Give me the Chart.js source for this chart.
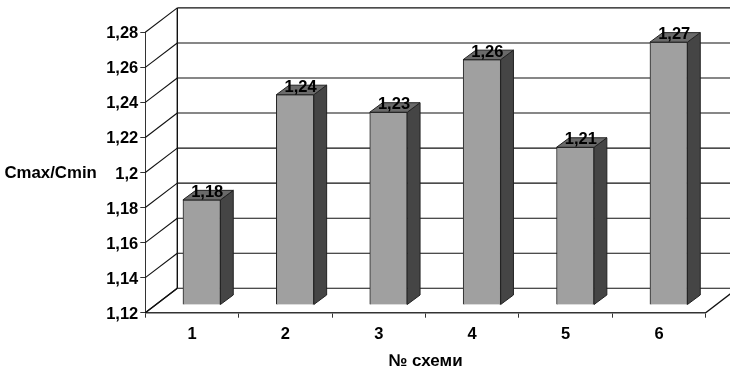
<!DOCTYPE html>
<html><head><meta charset="utf-8">
<style>html,body{margin:0;padding:0;background:#fff}canvas{display:block}</style>
<script src="https://cdn.jsdelivr.net/npm/chart.js@4"></script>
</head><body><canvas id="c" width="730" height="368"></canvas>
<script>
const categories = ["1","2","3","4","5","6"];
const values = [1.18,1.24,1.23,1.26,1.21,1.27];
const valueLabels = ["1,18","1,24","1,23","1,26","1,21","1,27"];
const yTicks = [1.12,1.14,1.16,1.18,1.2,1.22,1.24,1.26,1.28];
const yTickLabels = ["1,12","1,14","1,16","1,18","1,2","1,22","1,24","1,26","1,28"];
const yTitle = "Cmax/Cmin";
const xTitle = "№ схеми";

const FONT = '"Liberation Sans", Arial, sans-serif';
const WALL = {dx:32, dy:-24.4};
const BAR = {dx:9.7, dy:-7.7};
const SIDE = {dx:12.8, dy:-9.5};
const INK = '#111';

const scene = {
  id:'scene',
  beforeDatasetsDraw(chart){
    const {ctx, scales:{x,y}} = chart;
    const L=x.left, R=x.right, B=y.bottom;
    ctx.save();
    ctx.strokeStyle=INK; ctx.lineWidth=1.1;
    const line=(a,b,c,d)=>{ctx.beginPath();ctx.moveTo(a,b);ctx.lineTo(c,d);ctx.stroke();};
    yTicks.forEach(v=>{
      const p=y.getPixelForValue(v);
      line(L,p,L+WALL.dx,p+WALL.dy);
      line(L+WALL.dx,p+WALL.dy,730,p+WALL.dy);
    });
    ctx.lineWidth=1.4;
    line(L+WALL.dx,y.top+WALL.dy,L+WALL.dx,B+WALL.dy);
    line(R,B,R+WALL.dx,B+WALL.dy);
    line(L,B,L+WALL.dx,B+WALL.dy);
    ctx.restore();
    ctx.save();
    ctx.translate(BAR.dx,BAR.dy);
  },
  afterDatasetsDraw(chart){
    const {ctx} = chart;
    const bars = chart.getDatasetMeta(0).data;
    ctx.strokeStyle='#222'; ctx.lineWidth=1;
    bars.forEach(b=>{
      const r=b.x+b.width/2, l=b.x-b.width/2, t=b.y, bt=b.base;
      ctx.fillStyle='#454545';
      ctx.beginPath();ctx.moveTo(r,t);ctx.lineTo(r+SIDE.dx,t+SIDE.dy);ctx.lineTo(r+SIDE.dx,bt+SIDE.dy);ctx.lineTo(r,bt);ctx.closePath();ctx.fill();ctx.stroke();
      ctx.fillStyle='#6a6a6a';
      ctx.beginPath();ctx.moveTo(l,t);ctx.lineTo(l+SIDE.dx,t+SIDE.dy);ctx.lineTo(r+SIDE.dx,t+SIDE.dy);ctx.lineTo(r,t);ctx.closePath();ctx.fill();ctx.stroke();
    });
    ctx.fillStyle='#000';
    ctx.font='bold 16.5px '+FONT;
    ctx.textAlign='center'; ctx.textBaseline='alphabetic';
    bars.forEach((b,i)=>ctx.fillText(valueLabels[i],b.x+5.5,b.y-3));
    ctx.restore();
  },
  afterDraw(chart){
    const {ctx,scales:{y}} = chart;
    ctx.save();
    ctx.fillStyle='#000';
    ctx.font='bold 16.8px '+FONT;
    ctx.textAlign='left'; ctx.textBaseline='alphabetic';
    ctx.fillText(yTitle,4.5,y.getPixelForValue(1.2)+5);
    ctx.restore();
  }
};

new Chart(document.getElementById('c'),{
  type:'bar',
  data:{labels:categories,datasets:[{data:values,base:yTicks[0],backgroundColor:'#a0a0a0',borderColor:'#222',borderWidth:1,barThickness:37.5,clip:false}]},
  plugins:[scene],
  options:{
    responsive:false,animation:false,
    layout:{padding:{top:32.3,right:24.3,left:0,bottom:0}},
    plugins:{legend:{display:false},tooltip:{enabled:false},title:{display:false}},
    scales:{
      x:{
        afterFit(s){s.height=55.3;},
        border:{color:'#333',width:1.5},
        grid:{drawOnChartArea:false,tickLength:5,color:'#333',offset:true},
        ticks:{color:'#000',font:{family:FONT,weight:'bold',size:16.5},padding:7,maxRotation:0},
        title:{display:true,text:xTitle,color:'#000',font:{family:FONT,weight:'bold',size:17,lineHeight:1},padding:{top:10,bottom:-1.5}}
      },
      y:{
        min:yTicks[0],max:yTicks[yTicks.length-1],
        afterFit(s){s.width=145.3;},
        afterBuildTicks(s){s.ticks=yTicks.map(v=>({value:v}));},
        border:{color:'#333',width:1},
        grid:{drawOnChartArea:false,tickLength:5,color:'#333'},
        ticks:{color:'#000',font:{family:FONT,weight:'bold',size:16.5},padding:2,labelOffset:1.5,
          callback(v){return yTickLabels[yTicks.indexOf(v)];}}
      }
    }
  }
});
</script></body></html>
